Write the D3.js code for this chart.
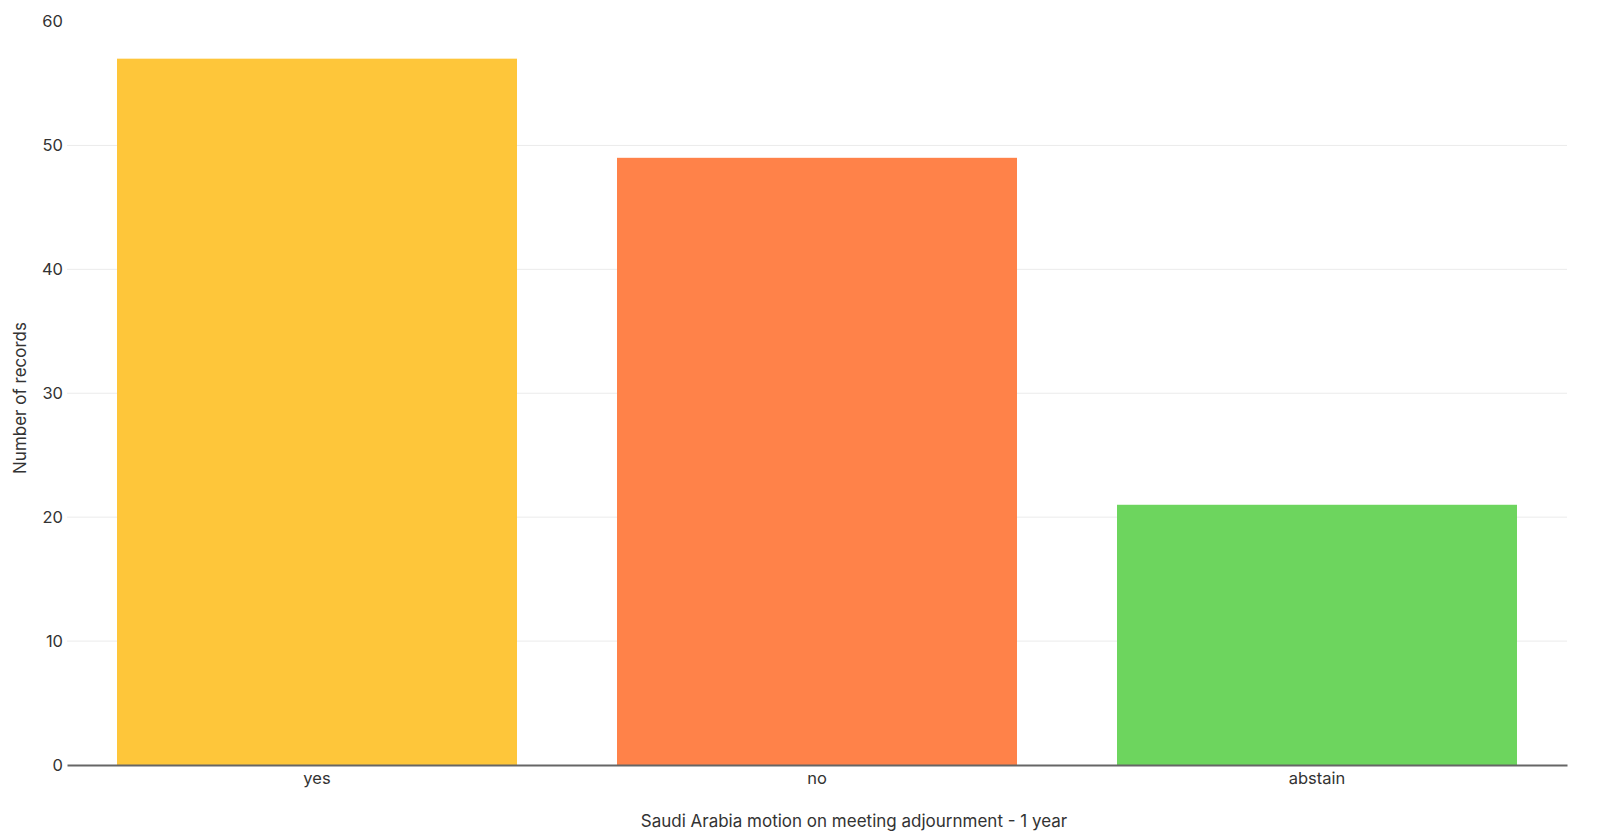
<!DOCTYPE html>
<html><head><meta charset="utf-8">
<script src="https://cdn.jsdelivr.net/npm/d3@7"></script>
<style>
html,body{margin:0;padding:0;background:#fff;}
svg text{font-family:Inter,"Open Sans",sans-serif;fill:#333;}
</style></head>
<body>
<svg id="chart" width="1600" height="837"></svg>
<script>
const categories = ["yes", "no", "abstain"];
const values = [57, 49, 21];
const colors = ["#FEC63A", "#FF8249", "#6DD55E"];
const yTicks = [0, 10, 20, 30, 40, 50, 60];
const xTitle = "Saudi Arabia motion on meeting adjournment - 1 year";
const yTitle = "Number of records";

const svg = d3.select("#chart");
const margin = {left: 67, right: 33, top: 21.5, bottom: 72};
const W = 1600, H = 837;
const x = d3.scaleBand().domain(categories).range([margin.left, W - margin.right]).paddingInner(0.2).paddingOuter(0.1);
const y = d3.scaleLinear().domain([0, 60]).range([H - margin.bottom, margin.top]);

// gridlines (none at 0 and at top)
svg.append("g").selectAll("line").data(yTicks.filter(d => d > 0 && d < 60)).join("line")
  .attr("x1", margin.left).attr("x2", W - margin.right)
  .attr("y1", d => y(d)).attr("y2", d => y(d))
  .attr("stroke", "#ebebeb").attr("stroke-width", 1);

// bars
svg.append("g").selectAll("rect").data(categories).join("rect")
  .attr("x", d => x(d)).attr("width", x.bandwidth())
  .attr("y", (d, i) => y(values[i])).attr("height", (d, i) => y(0) - y(values[i]))
  .attr("fill", (d, i) => colors[i]);

// y axis
const yAxis = d3.axisLeft(y).tickValues(yTicks).tickSize(0).tickPadding(4);
const gy = svg.append("g").attr("transform", `translate(${margin.left},0)`).call(yAxis);
gy.select(".domain").remove();
gy.selectAll("text").attr("font-size", 16.5).style("fill", "#333");

// x axis
const xAxis = d3.axisBottom(x).tickSize(0).tickPadding(7);
const gx = svg.append("g").attr("transform", `translate(0,${y(0)})`).call(xAxis);
gx.select(".domain").attr("stroke", "#666").attr("stroke-width", 2);
gx.selectAll("text").attr("font-size", 16.5).style("fill", "#333");

// titles
svg.append("text").attr("x", 854).attr("y", 827)
  .attr("text-anchor", "middle").attr("font-size", 17).text(xTitle);
svg.append("text").attr("transform", `translate(26,${398}) rotate(-90)`)
  .attr("text-anchor", "middle").attr("font-size", 17).text(yTitle);
</script>
</body></html>
